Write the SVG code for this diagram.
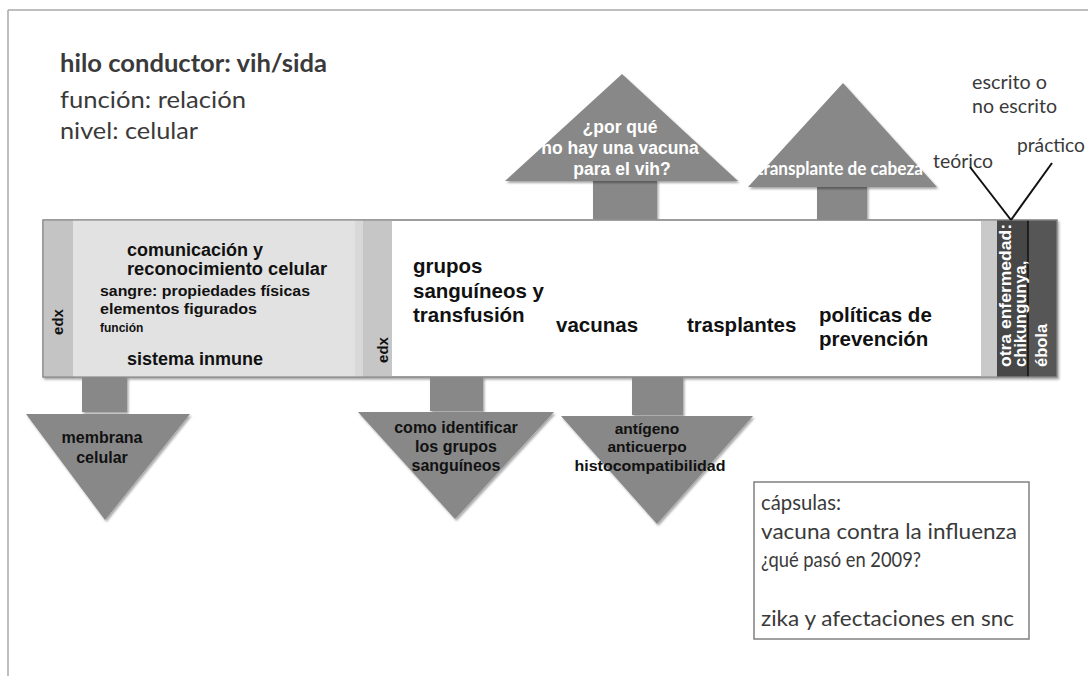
<svg xmlns="http://www.w3.org/2000/svg" width="1088" height="676" viewBox="0 0 1088 676">
<defs>
<filter id="sh" x="-10%" y="-10%" width="130%" height="130%">
<feDropShadow dx="1.5" dy="2" stdDeviation="1.2" flood-color="#000" flood-opacity="0.35"/>
</filter>
</defs>
<style>
.cal{font-family:Lato,"Open Sans","Liberation Sans",sans-serif;fill:#3a3a3a}
.hv{font-family:"Liberation Sans",Arial,sans-serif;font-weight:bold;fill:#111}
.wh{font-family:"Liberation Sans",Arial,sans-serif;font-weight:bold;fill:#fff}
.arrow{fill:#888888}
.mid{text-anchor:middle}
</style>
<rect x="0" y="0" width="1088" height="676" fill="#fff"/>
<g id="frame">
<line x1="8" y1="10" x2="1088" y2="10" stroke="#a8a8a8" stroke-width="1.5"/>
<line x1="8" y1="10" x2="8" y2="676" stroke="#a8a8a8" stroke-width="1.5"/>
</g>
<g id="title">
<text class="cal" x="60" y="72" font-size="24" font-weight="bold" textLength="267" lengthAdjust="spacingAndGlyphs">hilo conductor: vih/sida</text>
<text class="cal" x="60" y="108" font-size="24" textLength="186" lengthAdjust="spacingAndGlyphs">función: relación</text>
<text class="cal" x="60" y="139" font-size="24" textLength="138" lengthAdjust="spacingAndGlyphs">nivel: celular</text>
</g>
<g id="up-vacuna">
<rect class="arrow" x="593" y="180" width="64" height="39" filter="url(#sh)"/>
<polygon class="arrow" points="622,74 738,181 505,181" filter="url(#sh)"/>
<text class="wh mid" x="620" y="133" font-size="17.5">¿por qué</text>
<text class="wh mid" x="620" y="154" font-size="17.5">no hay una vacuna</text>
<text class="wh mid" x="622" y="175" font-size="17.5">para el vih?</text>
</g>
<g id="up-cabeza">
<rect class="arrow" x="817" y="186" width="50" height="36" filter="url(#sh)"/>
<polygon class="arrow" points="843,83 937,187 748,187" filter="url(#sh)"/>
<text x="840" y="175" class="mid" font-family="Lato,'Open Sans',sans-serif" font-weight="bold" font-size="18" fill="#fff" textLength="166" lengthAdjust="spacingAndGlyphs">transplante de cabeza</text>
</g>
<g id="band">
<rect x="43" y="220" width="1014" height="157" fill="#fff" stroke="#8c8c8c" stroke-width="1.2" filter="url(#sh)"/>
<rect x="43" y="220" width="312" height="157" fill="#e2e2e2"/>
<rect x="43" y="220" width="30" height="157" fill="#c4c4c4"/>
<rect x="355" y="220" width="8" height="157" fill="#d8d8d8"/>
<rect x="363" y="220" width="29" height="157" fill="#c6c6c6"/>
<rect x="981" y="220" width="16" height="157" fill="#c9c9c9"/>
<rect x="997" y="220" width="31" height="157" fill="#474747"/>
<rect x="1028" y="220" width="29" height="157" fill="#565656"/>
<line x1="1028" y1="220" x2="1028" y2="377" stroke="#111" stroke-width="1.5"/>
<rect x="43" y="220" width="1014" height="157" fill="none" stroke="#8c8c8c" stroke-width="1.2"/>
</g>
<g id="node-comunicacion">
<text class="hv" x="127" y="256" font-size="17.5" textLength="136" lengthAdjust="spacingAndGlyphs">comunicación y</text>
<text class="hv" x="127" y="275" font-size="17.5" textLength="200" lengthAdjust="spacingAndGlyphs">reconocimiento celular</text>
<text class="hv" x="100" y="296" font-size="15" textLength="210" lengthAdjust="spacingAndGlyphs">sangre: propiedades físicas</text>
<text class="hv" x="100" y="314" font-size="15" textLength="157" lengthAdjust="spacingAndGlyphs">elementos figurados</text>
<text class="hv" x="100" y="332" font-size="12">función</text>
<text class="hv" x="127" y="365" font-size="17.5" textLength="136" lengthAdjust="spacingAndGlyphs">sistema inmune</text>
</g>
<g id="node-edx1">
<text class="hv mid" transform="translate(63,322) rotate(-90)" font-size="15" fill="#222">edx</text>
</g>
<g id="node-edx2">
<text class="hv mid" transform="translate(388,350) rotate(-90)" font-size="15" fill="#222">edx</text>
</g>
<g id="node-grupos">
<text class="hv" x="413" y="273" font-size="20.5">grupos</text>
<text class="hv" x="413" y="298" font-size="20.5">sanguíneos y</text>
<text class="hv" x="413" y="322" font-size="20.5">transfusión</text>
</g>
<g id="node-vacunas">
<text class="hv" x="556" y="332" font-size="20.5">vacunas</text>
</g>
<g id="node-trasplantes">
<text class="hv" x="687" y="332" font-size="20.5">trasplantes</text>
</g>
<g id="node-politicas">
<text class="hv" x="819" y="322" font-size="20.5">políticas de</text>
<text class="hv" x="819" y="346" font-size="20.5">prevención</text>
</g>
<g id="node-otra">
<text class="wh" transform="translate(1011,367) rotate(-90)" font-size="16.5" textLength="143" lengthAdjust="spacingAndGlyphs">otra enfermedad:</text>
<text class="wh" transform="translate(1026,367) rotate(-90)" font-size="16.5">chikungunya,</text>
<text class="wh" transform="translate(1047,367) rotate(-90)" font-size="16.5">ébola</text>
</g>
<g id="down-membrana">
<rect class="arrow" x="82" y="377" width="45" height="35" filter="url(#sh)"/>
<polygon class="arrow" points="26,414 190,414 105,520" filter="url(#sh)"/>
<text class="hv mid" x="102" y="443" font-size="16">membrana</text>
<text class="hv mid" x="102" y="463" font-size="16">celular</text>
</g>
<g id="down-grupos">
<rect class="arrow" x="430" y="377" width="53" height="34" filter="url(#sh)"/>
<polygon class="arrow" points="358,412 554,412 455,519" filter="url(#sh)"/>
<text class="hv mid" x="456" y="433" font-size="16">como identificar</text>
<text class="hv mid" x="456" y="452" font-size="16">los grupos</text>
<text class="hv mid" x="456" y="471" font-size="16">sanguíneos</text>
</g>
<g id="down-antigeno">
<rect class="arrow" x="632" y="377" width="51" height="38" filter="url(#sh)"/>
<polygon class="arrow" points="561,416 753,416 657,524" filter="url(#sh)"/>
<text class="hv mid" x="647" y="434" font-size="15.5">antígeno</text>
<text class="hv mid" x="647" y="452" font-size="15.5">anticuerpo</text>
<text class="hv mid" x="650" y="471" font-size="15.5" textLength="151" lengthAdjust="spacingAndGlyphs">histocompatibilidad</text>
</g>
<g id="node-escrito">
<text class="cal" x="972" y="89" font-size="19" fill="#222" textLength="75" lengthAdjust="spacingAndGlyphs">escrito o</text>
<text class="cal" x="972" y="113" font-size="19" fill="#222" textLength="85" lengthAdjust="spacingAndGlyphs">no escrito</text>
</g>
<g id="node-teorico">
<text class="cal" x="933" y="168" font-size="19" fill="#222" textLength="60" lengthAdjust="spacingAndGlyphs">teórico</text>
</g>
<g id="node-practico">
<text class="cal" x="1017" y="152" font-size="19" fill="#222" textLength="68" lengthAdjust="spacingAndGlyphs">práctico</text>
</g>
<g id="connectors">
<line x1="970" y1="167" x2="1011" y2="220" stroke="#111" stroke-width="2"/>
<line x1="1052" y1="163" x2="1011" y2="220" stroke="#111" stroke-width="2"/>
</g>
<g id="node-capsulas">
<rect x="754" y="482" width="275" height="157" fill="#fff" stroke="#808080" stroke-width="1.5"/>
<text class="cal" x="761" y="510" font-size="22" textLength="80" lengthAdjust="spacingAndGlyphs">cápsulas:</text>
<text class="cal" x="761" y="539" font-size="22" textLength="256" lengthAdjust="spacingAndGlyphs">vacuna contra la influenza</text>
<text class="cal" x="761" y="567" font-size="22" textLength="160" lengthAdjust="spacingAndGlyphs">¿qué pasó en 2009?</text>
<text class="cal" x="761" y="626" font-size="22" textLength="253" lengthAdjust="spacingAndGlyphs">zika y afectaciones en snc</text>
</g>
</svg>
